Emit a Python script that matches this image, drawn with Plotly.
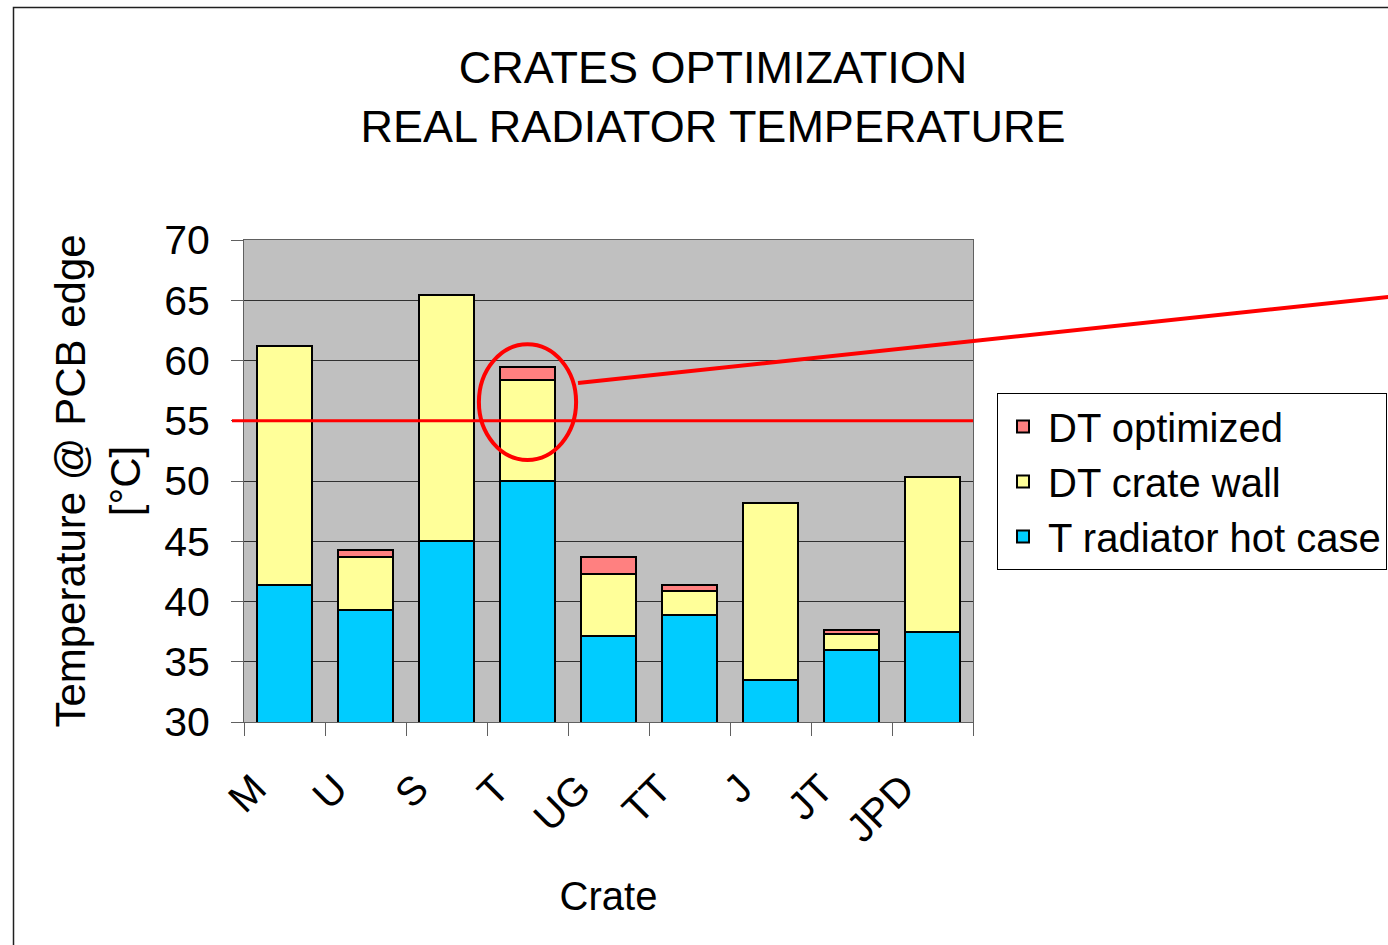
import plotly.graph_objects as go

# Crate categories and stacked temperature components (°C)
crates = ["M", "U", "S", "T", "UG", "TT", "J", "JT", "JPD"]
t_radiator_hot_case = [41.4, 39.3, 45.0, 50.0, 37.1, 38.9, 33.5, 36.0, 37.45]
dt_crate_wall = [19.8, 4.4, 20.4, 8.4, 5.2, 1.95, 14.7, 1.3, 12.9]
dt_optimized = [0.0, 0.55, 0.0, 1.05, 1.4, 0.55, 0.0, 0.35, 0.0]

y_ticks = [30, 35, 40, 45, 50, 55, 60, 65, 70]
limit_temp = 55

FONT = "Liberation Sans, Arial, sans-serif"
W, H = 1388, 945
L, R, T, B = 244, 415, 240, 223
PW, PH = W - L - R, H - T - B


def px_to_paper_x(px):
    return (px - L) / PW


def px_to_paper_y(py):
    return (H - B - py) / PH


series = [
    ("T radiator hot case", t_radiator_hot_case, "#00CCFF"),
    ("DT crate wall", dt_crate_wall, "#FFFF99"),
    ("DT optimized", dt_optimized, "#FF8080"),
]

fig = go.Figure()
for name, vals, color in series:
    fig.add_trace(go.Bar(
        x=crates, y=vals, name=name,
        marker=dict(color=color, line=dict(color="black", width=2)),
    ))

fig.update_layout(
    width=W, height=H,
    margin=dict(l=L, r=R, t=T, b=B, autoexpand=False),
    paper_bgcolor="white",
    plot_bgcolor="#C0C0C0",
    barmode="stack",
    bargap=0.31,
    font=dict(family=FONT, color="black"),
    title=dict(
        text="CRATES OPTIMIZATION<br>REAL RADIATOR TEMPERATURE",
        font=dict(size=45, family=FONT, color="black"),
        x=713 / W, xref="container", xanchor="center",
        y=1 - 83 / H, yref="container", yanchor="middle",
    ),
    legend=dict(
        x=px_to_paper_x(997), y=px_to_paper_y(393),
        xanchor="left", yanchor="top",
        bgcolor="white", bordercolor="black", borderwidth=1,
        itemwidth=40,
        font=dict(size=40, family=FONT, color="black"),
    ),
    showlegend=True,
)

fig.update_xaxes(
    type="category",
    tickson="boundaries",
    ticks="outside", ticklen=13, tickcolor="#606060", tickwidth=1,
    tickangle=-45,
    ticklabelstandoff=26,
    ticklabelshift=-30,
    tickfont=dict(size=40, family=FONT, color="black"),
    showline=True, linecolor="#606060", linewidth=1, mirror=True,
    showgrid=False,
    title=dict(text="Crate", font=dict(size=40, family=FONT, color="black"), standoff=32),
)

fig.update_yaxes(
    range=[30, 70],
    tickvals=y_ticks,
    ticks="outside", ticklen=12, tickcolor="#606060", tickwidth=1,
    ticklabelstandoff=13,
    tickfont=dict(size=41, family=FONT, color="black"),
    showline=True, linecolor="#606060", linewidth=1, mirror=True,
    showgrid=True, gridcolor="#303030", gridwidth=1,
    zeroline=False,
    title=dict(text="Temperature @ PCB edge<br>[°C]",
               font=dict(size=42, family=FONT, color="black"), standoff=10),
)

# 55 °C limit line
fig.add_shape(type="line", xref="paper", yref="y",
              x0=px_to_paper_x(232), x1=1, y0=limit_temp, y1=limit_temp,
              line=dict(color="#FF0000", width=3), layer="above")

# Ellipse highlighting crate T
fig.add_shape(type="circle", xref="x", yref="y",
              x0=2.4, x1=3.6, y0=51.75, y1=61.35,
              line=dict(color="#FF0000", width=4), layer="above")

# Callout line leaving the ellipse
fig.add_shape(type="line", xref="paper", yref="y",
              x0=px_to_paper_x(578), x1=px_to_paper_x(1400),
              y0=58.13, y1=65.38,
              line=dict(color="#FF0000", width=4), layer="above")

# Chart area frame
fig.add_shape(type="rect", xref="paper", yref="paper",
              x0=px_to_paper_x(13.5), x1=px_to_paper_x(1420),
              y0=px_to_paper_y(960), y1=px_to_paper_y(7.5),
              line=dict(color="#202020", width=1.5), fillcolor="rgba(0,0,0,0)",
              layer="below")

fig.write_html("out.html")
